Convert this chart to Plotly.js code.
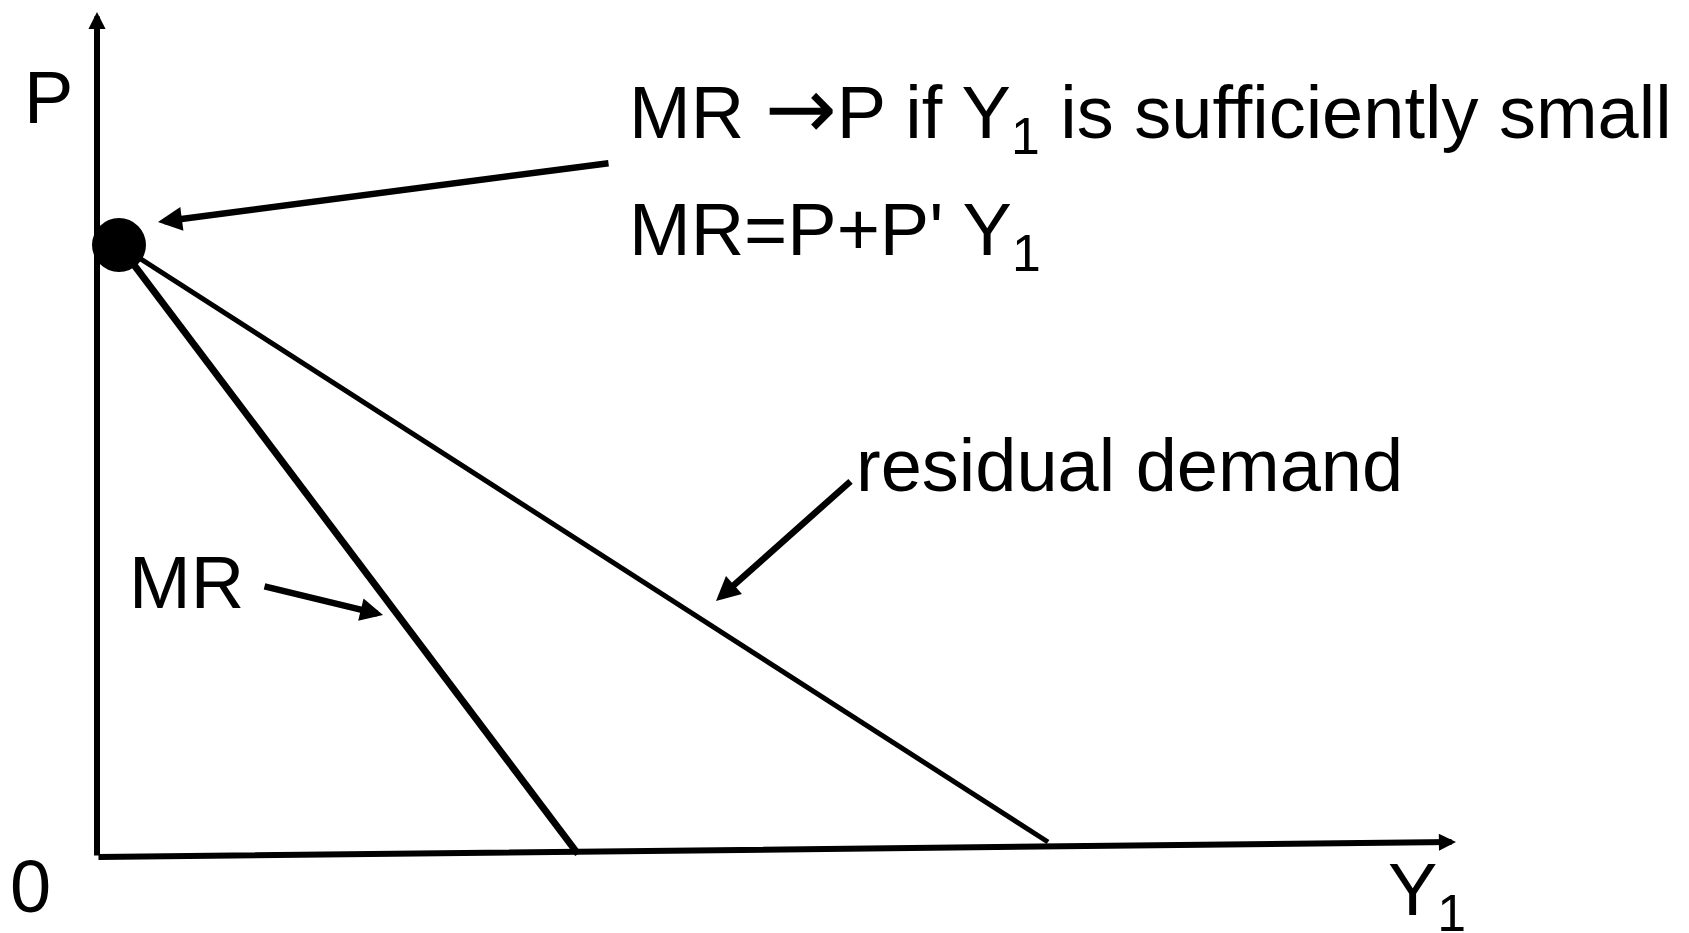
<!DOCTYPE html>
<html>
<head>
<meta charset="utf-8">
<script src="https://cdn.plot.ly/plotly-3.0.1.min.js"></script>
<style>html,body{margin:0;padding:0;background:#fff;}#chart{width:1689px;height:933px;}</style>
</head>
<body>
<div id="chart"></div>
<script>
// ---- Diagram data (units: Y1 horizontally, P vertically; origin = 0) ----
// Axes (drawn by hand in the original: the Y1 axis rises slightly)
const vAxisY1 = [0, 0];
const vAxisP  = [0, 845];
const hAxisY1 = [0, 1359];
const hAxisP  = [0, 15];

// Point where MR = P (Y1 -> 0)
const dotY1 = [22];
const dotP  = [612];

// Residual demand curve
const demandY1 = [22, 951];
const demandP  = [612, 15];

// Marginal revenue curve
const mrY1 = [22, 481];
const mrP  = [612, 3];

// Text labels
const labelP      = 'P';
const labelOrigin = '0';
const labelY1     = 'Y<sub>1</sub>';
const labelMR     = 'MR';
const labelDemand = 'residual demand';
const noteLine1   = 'MR <span style="font-family:\'DejaVu Sans\';font-size:86px">\u2192</span>P if Y<sub>1</sub> is sufficiently small';
const noteLine2   = "MR=P+P' Y<sub>1</sub>";

// Pointer arrows: [tailY1, tailP, tipY1, tipP]
const noteArrow   = [513, 694, 61, 635];
const mrArrow     = [166, 271, 286, 242];
const demandArrow = [755, 377, 619, 256];

const FONT = {family: '"Liberation Sans", Arial, Helvetica, sans-serif', size: 74, color: '#000'};

const traces = [
  {x: demandY1, y: demandP, mode: 'lines', line: {color: '#000', width: 5}, hoverinfo: 'skip'},
  {x: mrY1, y: mrP, mode: 'lines', line: {color: '#000', width: 7}, hoverinfo: 'skip'},
  {x: dotY1, y: dotP, mode: 'markers', marker: {color: '#000', size: 54, line: {width: 0}}, hoverinfo: 'skip'}
];

function arrow(tailX, tailY, tipX, tipY, width, size) {
  return {x: tipX, y: tipY, ax: tailX, ay: tailY, xref: 'x', yref: 'y', axref: 'x', ayref: 'y',
          text: '', showarrow: true, arrowhead: 2, arrowsize: size, arrowwidth: width,
          arrowcolor: '#000', standoff: 0, startstandoff: 0};
}
function label(text, x, y) {
  return {x: x, y: y, xref: 'x', yref: 'y', text: text, showarrow: false,
          xanchor: 'left', yanchor: 'top', font: FONT};
}

const annotations = [
  arrow(vAxisY1[0], vAxisP[0], vAxisY1[1], vAxisP[1], 6, 0.57),
  arrow(hAxisY1[0], hAxisP[0], hAxisY1[1], hAxisP[1], 6, 0.57),
  arrow(noteArrow[0], noteArrow[1], noteArrow[2], noteArrow[3], 6.5, 0.74),
  arrow(mrArrow[0], mrArrow[1], mrArrow[2], mrArrow[3], 6.5, 0.7),
  arrow(demandArrow[0], demandArrow[1], demandArrow[2], demandArrow[3], 6.5, 0.74),
  label(labelP, -75, 803),
  label(labelOrigin, -89, 14),
  label(labelY1, 1289, 11),
  label(labelMR, 30, 318),
  label(noteLine1, 530, 801),
  label(noteLine2, 530, 671),
  label(labelDemand, 757, 435)
];

const layout = {
  width: 1689, height: 933,
  margin: {l: 0, r: 0, t: 0, b: 0, pad: 0},
  paper_bgcolor: '#fff', plot_bgcolor: '#fff',
  showlegend: false,
  xaxis: {range: [-97, 1592], visible: false, fixedrange: true},
  yaxis: {range: [-76, 857], visible: false, fixedrange: true},
  annotations: annotations,
  font: FONT
};

Plotly.newPlot('chart', traces, layout, {displayModeBar: false, staticPlot: true});
</script>
</body>
</html>
